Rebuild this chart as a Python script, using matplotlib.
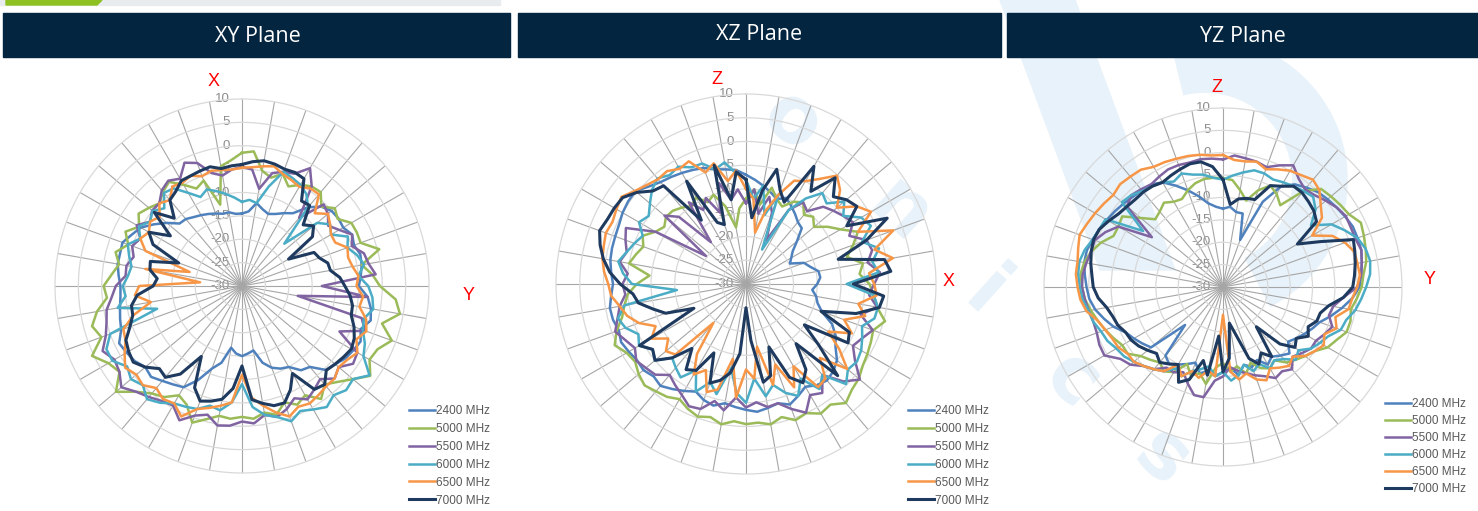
import numpy as np
import matplotlib
matplotlib.use('Agg')
import matplotlib.pyplot as plt
from matplotlib.patches import Rectangle, Polygon, Arc

# angle categories (deg, clockwise from top)
angles = np.arange(0, 360, 5)
freqs = ['2400 MHz', '5000 MHz', '5500 MHz', '6000 MHz', '6500 MHz', '7000 MHz']
colors = ['#4F81BD', '#9BBB59', '#8064A2', '#4BACC6', '#F79646', '#1F3A5F']
widths = [1.8, 1.8, 1.8, 1.8, 1.8, 2.2]

# ---- XY plane (dB) ----
xy_2400 = [-14.5, -14, -12, -13, -13.6, -13, -12, -11, -8, -6, -5, -4.8,
           -5, -4, -4.5, -3.8, -4, -4.5, -5, -3, -2, -1.5, -3, -2,
           -2.5, -3, -4, -4.6, -7.4, -8, -10, -10.5, -11.4, -13, -16, -15.5,
           -15, -15.5, -16.6, -13, -11.2, -7.8, -5, -4.3, -3.5, -2.5, -3, -2,
           -1.5, -1, -2.5, -3, -3.5, -3.9, -4, -3.5, -3, -3, -2.8, -4,
           -5, -7, -9, -11.1, -11.3, -12, -12.5, -13, -13.5, -14, -14, -14.5]
xy_5000 = [-1.5, -1.1, -5, -6, -4.5, -6.5, -5, -4, -3.8, -6, -4.1, -5,
           -3, -2.9, -3, 0.4, -4, -2, -0.5, 3, 4.3, 1, 4.1, 2,
           1.5, 3.5, 1, -1, -2.5, -0.5, -3, -2, -3.5, -1.5, -2.5, -1.5,
           -2, -1.5, -1.8, -0.5, 1.1, -2, -3, -1, 0, 2, 5.2, 2,
           3, 5.4, 2, 3.2, 1.5, -1, -0.4, -2, -3.3, -2, -4.1, -2.5,
           -4.6, -3, -4, -5, -3.7, -2.8, -5, -7, -6, -12, -4, -3]
xy_5500 = [-4.5, -5, -8.9, -5, -4, -3.5, -0.9, -4, -11, -5.3, -6, -7.5,
           -6, -4, -5, -3, -2.5, -1.3, -12.9, -3, -17.9, -3.5, -2, -7,
           -1.5, -1, -3, -2, -4, -3, -2, -3.5, -2, -1, -2, -0.5,
           -1, 0, 0.3, -1.5, -0.5, 1.7, -0.5, 0, 1, 2, 3.7, 2,
           1.5, 2.9, 1, 0, -0.6, -2, -3, -5, -4.9, -6, -5, -6,
           -4, -6, -4.9, -5, -3.3, -2.5, -3.5, -0.9, -2, -5, -6, -5]
xy_6000 = [-12, -11.5, -12, -8, -4, -4.5, -5, -6, -8, -17.2, -9, -7,
           -8, -5, -6, -4.5, -3.5, -5, -3, -2, -1.5, -3, -2.5, -1,
           0, 3.3, 1, 1.5, 0.5, 1.6, 0.5, -0.5, 0.8, -1, -2, -4,
           -9, -5, -3, -3.5, -2, -1.5, -1, 0.5, 1.6, 0, 1, 0,
           2, 2, 0, -11.2, -3, -5, -4.5, -5.5, -6, -5, -4, -6,
           -4.5, -6, -5, -6.5, -4, -4.5, -7, -9, -8, -9, -10, -11]
xy_6500 = [-4.7, -4.5, -4, -3.5, -4.5, -5, -5.5, -4.5, -4.4, -8, -6, -7,
           -8, -8, -6, -6.5, -6, -5, -5.5, -4, -4.5, -2.5, -1.7, -3,
           -1.5, -2.5, -3, -2, -2, -1.5, -1, -1.5, -0.3, -2, -4, -6,
           -11, -5, -4, -3, -2, 0.8, -1, -0.5, -1.5, 0, -0.5, 0.5,
           -1, -2.5, -3, -6, -10.2, -7, -8, -21, -9, -18.4, -8, -6,
           -7, -6, -7, -5, -6, -4, -4.5, -4, -5, -4.5, -4.8, -5]
xy_7000 = [-4, -3.3, -2.8, -3, -3.4, -3.2, -3.5, -7.8, -7.5, -11.5, -10, -11.6,
           -18.5, -13, -12.4, -11, -10.8, -9, -8, -6.8, -6, -5.8, -4.5, -3.5,
           -3, -3.5, -4, -4.5, -2.5, -3, -8.4, -5.5, -3.4, -3.5, -4.5, -5.6,
           -12.9, -8, -5.4, -4.5, -3.8, -6, -12.6, -7, -4.5, -5, -3, -1.6,
           -2, -2.6, -4.5, -5.8, -6, -7.5, -11, -11.8, -10, -9.7, -15.6, -9,
           -7, -11.3, -5.5, -9.5, -6, -5.3, -4, -4, -3.8, -3.6, -4.5, -4.2]

# ---- XZ plane (dB) ----
xz_2400 = [-7, -8, -9, -10, -11, -10, -11, -12, -13, -13.4, -16, -18,
           -19, -19.8, -17, -16, -14.5, -14.3, -15, -16, -15, -14.4, -13, -10,
           -8.2, -7, -5, -4, -3.5, -4, -5, -4, -3, -4, -3.5, -3,
           -3.5, -4, -4.5, -3.5, -4, -5, -4, -3, -2, -2.5, -1.8, -2,
           -1.5, -1, -1.5, -1, -0.9, -1.5, -2, -1.5, -1, -0.8, -0.7, -0.5,
           0, 0.3, 0.4, -1, -2, -2.5, -3, -3.5, -4, -5, -5.5, -5.9]
xz_5000 = [-12, -10, -13, -9, -11, -12, -10, -9, -11, -10, -11.3, -9,
           -7, -4, -6, -8, -5, -6, -4, -3, -2, 0.3, -1.5, -1,
           -0.5, 0, 1, 1.5, 2.7, 1, 1.5, 0, 0.5, -1, 0, -0.7,
           -0.5, -1, 0, -1, -0.3, -1, -2, -1, -0.5, 0.2, -0.5, -1.5,
           -1, 0.5, -1, -3, -4, -5, -7, -9.6, -5, -6, -7, -6,
           -8, -9, -8, -8.2, -9, -10, -9, -11, -10, -13, -17.9, -14]
xz_5500 = [-13, -10, -15, -11, -14, -19.8, -12, -9, -10, -7, -6, -5,
           -4, -6, -3, -2.5, -4, -1.7, -3, -4, -2, -5, -1.6, -3,
           -4, -2, 1.3, -1, -5, -2, -3, -0.1, -2, -4, -3.7, -5,
           -4, -6, -3, -4.5, -2, -1.6, -3, -4, -5, -3, -2.5, -1.8,
           -3, -2, -0.7, -2, -3, -4.5, -4, -5, -3, -4, -3, -2.1,
           -8, -19.7, -7.6, -10, -18.5, -9, -12, -10, -14, -8, -12, -10]
xz_6000 = [-8, -12, -9, -15, -10, -22, -12, -8, -5, -6, -3, -5,
           -2, -1, -4, -1, -3, -2, -8.8, -3, -1.8, -2, -4, -3,
           -2, -1.5, -2, -0.2, -5, -3, -7, -4, -5.6, -8, -6, -10,
           -5, -7, -12, -6, -8, -5, -9, -6, -7, -8, -5, -6,
           -4, -5, -3, -2.1, -4, -15.4, -6, -4, -2.7, -4, -5, -6,
           -4, -5, -3.6, -2, -1, -2, -1.5, -2.9, -3, -5, -4, -6.7]
xz_6500 = [-10, -12, -19, -14, -10, -6, -5, -3, -0.2, -2, -5, -1.5,
           0.4, -4, 3, -2, 1.4, -4, -3, -2.4, -6, -4, -8, -5.4,
           -10, -6, -2.2, -8, -4, -3.5, -10, -6, -12, -8, -16.6, -10,
           -12, -6, -14, -7, -5.8, -10, -8, -12, -19.3, -9, -8, -10,
           -7, -9, -6, -4.1, -3, -1.5, -1, 0, 0.7, 1, 1.4, 1,
           1.5, 2, 0.5, -0.5, -1.2, -1, -2, -1.5, -5, -3.7, -8, -6]
xz_7000 = [-8, -16, -10, -5, -9, -11, -1.4, -6.2, -0.8, -4, -2.4, -1.5,
           -5.5, 2.8, -3, -9.9, -0.4, 0.6, -7.4, -0.9, -1.5, -6, -13.2, -6,
           -5.2, -15, -10, -2.7, -13.6, -8, -6, -8.3, -15.9, -10, -9, -18,
           -25, -15.3, -11, -9, -7.8, -14, -9, -8, -12.3, -8, -5, -6,
           -4.1, -17.9, -12, -9.7, -7, -6.1, -3.5, -1.2, 0.5, 1.8, 2.8, 2.2,
           2, 1.7, 0, -2.3, -3, -13.6, -5, -15.7, -16.7, -4.1, -12, -6.3]

# ---- YZ plane (dB) ----
yz_2400 = [-12.5, -12, -13, -13, -18.8, -9, -4, -2, -1, 0, 0.5, 1,
           1.5, 2, 2, 2, 1.5, 1, 0.5, -1, -3, -5, -7, -8,
           -9, -10, -11, -9, -10, -11, -10, -12, -11, -12, -10, -12,
           -11, -10, -11, -10, -12, -11, -10, -9, -10, -18, -9, -8,
           -7, -6, -4, -2.5, -1, 0, 0.5, 1, 1.5, 1.5, 1, 0.5,
           0, -0.5, -1, -1.5, -1.8, -2, -3, -5, -7, -9, -11, -12]
yz_5000 = [-5.7, -6, -8, -10, -7, -5, -6, -7.7, -2, 1, 1.5, 2,
           2.5, 4, 3.5, 3, 2.5, 1.5, 1, 0, -1, -0.5, -0.6, -2,
           -3, -5, -6, -7, -8, -10, -9, -10, -12, -10, -12, -11,
           -13, -12, -8, -10, -9, -11, -8, -7, -8, -7, -6, -4,
           -4, -3, -2, -1, 0, 1, 1.5, 2, 1.5, 0.5, -1, -3,
           -3, -2.5, -6, -8.6, -8, -7, -8, -8.3, -7, -6, -5.5, -5.5]
yz_5500 = [-1.5, -0.5, -0.8, -1, -1.5, 0, 1.4, -0.5, -1.5, -1, 0, 1,
           1.7, 1.5, 1.5, 2, 1.5, 1, 0, -3, -5, -5.5, -4, -5,
           -6, -6, -7, -8, -6, -7, -6.5, -8, -9, -10, -11, -12,
           -10, -9, -5, -5, -7, -9, -8, -8, -6, -5, -3, -2,
           0.6, 0.5, 0, 0, 0.5, 1, 1.5, 1.5, 1, 0.5, 0.5, -1,
           -3, -10.6, -2, -1, -1.5, -2, -1.5, -1, -1, -1.2, -1, -1.2]
yz_6000 = [-6, -5, -4, -3, -3, -3.5, -3, -2.5, -2, -1.5, -3, -6,
           -2, 0, 2, 3, 3.4, 3, 2, 1, 0, -1.5, -2, -4,
           -5, -6, -8, -7, -9, -10, -9, -11, -10, -12, -10, -9,
           -11, -10, -12, -11, -10, -8, -9, -7, -6, -5, -4, -3,
           -2.5, -1.5, -1, 0, 0.5, 1.5, 2, 2.5, 2.6, 2, 1, 0.5,
           0.3, -8.2, -0.5, -1, -2, -2.5, -3, -4, -3, -4, -4.5, -5.5]
yz_6500 = [-0.5, -1.5, -1.5, -1, -2, -1, 0, 0.5, 1.3, 0.5, -1.5, -3,
           -7, -3, -1, 0.4, 0.5, 0.7, 0, -1, -1.5, -4, -3, -5,
           -4, -5, -6, -8, -7, -8, -9, -7, -8, -10, -9, -11,
           -23.8, -10, -11, -9, -10, -8, -10, -7, -6, -5, -4, -4,
           -3, -2.7, -2, -1, 1, 2, 2.5, 3, 3, 3.5, 4.1, 3.5,
           3, 2.5, 2, 2.5, 2.2, 2, 1, 0.8, 0.5, 0.3, 0, -0.5]
yz_7000 = [-6, -11.5, -10, -9.5, -9.2, -5, -4, -2.5, -2.5, -3, -3.5, -4.5,
           -10.8, -6, 1, 0.5, 0, -0.5, -1, -3, -6, -7.5, -7.7, -9,
           -8, -10, -9, -12, -18.4, -11, -13, -11, -13, -19, -21.8, -14,
           -11, -19, -10, -13, -8, -6.5, -10, -9, -8, -9, -8, -7,
           -6.3, -6, -5, -4.5, -3.6, -2, -1, -0.6, 0, 0.5, 0.8, 0.5,
           -0.5, -1.5, -2, -2.3, -2.3, -2.5, -3, -2.5, -2, -1.5, -1.6, -3]

planes = [
    ('XY Plane', [xy_2400, xy_5000, xy_5500, xy_6000, xy_6500, xy_7000], 'X', 'Y'),
    ('XZ Plane', [xz_2400, xz_5000, xz_5500, xz_6000, xz_6500, xz_7000], 'Z', 'X'),
    ('YZ Plane', [yz_2400, yz_5000, yz_5500, yz_6000, yz_6500, yz_7000], 'Z', 'Y'),
]
ring_ticks = [10, 5, 0, -5, -10, -15, -20, -25, -30]

W, H = 1478, 511
fig = plt.figure(figsize=(W / 100, H / 100), dpi=100)
fig.patch.set_facecolor('white')

def fx(px):
    return px / W

def fy(py):
    return 1 - py / H

# faint background watermark (behind the charts)
wm = '#E8F2FA'
for ch, px, py in [('o', 792, 122), ('n', 900, 212), ('i', 985, 295), ('c', 1072, 380), ('s', 1163, 458)]:
    fig.text(fx(px), fy(py), ch, color=wm, fontsize=56, fontweight='bold', family='DejaVu Sans',
             rotation=-42, ha='center', va='center', zorder=-2)
fig.patches.append(Arc((fx(1205), fy(180)), fx(230), 230 / H, theta1=-80, theta2=95,
                       transform=fig.transFigure, color=wm, lw=40, zorder=-2))
fig.patches.append(Polygon([(fx(1000), fy(0)), (fx(1075), fy(0)), (fx(1175), fy(270)),
                            (fx(1100), fy(270))], closed=True, transform=fig.transFigure,
                           color=wm, zorder=-2))

# top strip + header bars
fig.patches.append(Rectangle((0, fy(5)), fx(500), 5 / H, transform=fig.transFigure,
                             color='#E9ECEF', zorder=0))
fig.patches.append(Polygon([(fx(6), fy(0)), (fx(102), fy(0)), (fx(97), fy(5)), (fx(6), fy(5))],
                           closed=True, transform=fig.transFigure, color='#8DC021', zorder=0))
bars = [(3, 510), (518, 1001), (1007, 1478)]
title_x = [258, 759, 1243]
title_y = [37, 34, 37]
for (x0, x1), tx, ty, (name, _, _, _) in zip(bars, title_x, title_y, planes):
    fig.patches.append(Rectangle((fx(x0), fy(57)), fx(x1 - x0), 44 / H,
                                 transform=fig.transFigure, color='#03253F', zorder=1))
    fig.text(fx(tx), fy(ty), name, color='white', fontsize=15.5, family='Open Sans',
             ha='center', va='center', zorder=2)

# polar axes: (center x, center y, radius) in px
geoms = [(242, 286, 187), (746, 284, 190), (1223, 287, 179)]
top_lbl = [(214, 82), (717, 80), (1217, 88)]
side_lbl = [(469, 295), (949, 281), (1430, 279)]
legend_pos = [(409, 405, 0.5), (908, 405, 0.5), (1385, 398, 0.42)]

for i, (name, series, top_ax, side_ax) in enumerate(planes):
    cx, cy, R = geoms[i]
    ax = fig.add_axes([fx(cx - R), fy(cy + R), fx(2 * R), 2 * R / H], projection='polar')
    ax.set_facecolor('none')
    ax.set_theta_zero_location('N')
    ax.set_theta_direction(-1)
    ax.set_ylim(-30, 10)
    ax.set_yticks(ring_ticks[1:-1])
    ax.set_yticklabels([])
    ax.set_xticks(np.deg2rad(np.arange(0, 360, 10)))
    ax.set_xticklabels([])
    ax.xaxis.grid(True, color='#A6A6A6', lw=0.8)
    ax.yaxis.grid(True, color='#D9D9D9', lw=0.9)
    ax.spines['polar'].set_color('#D9D9D9')
    ax.spines['polar'].set_linewidth(0.9)
    ax.tick_params(length=0)

    for v in ring_ticks:
        ax.annotate(str(v), xy=(0, v), xytext=(-12, 0), textcoords='offset pixels',
                    ha='right', va='center', fontsize=9.5, color='#8C8C8C',
                    family='Liberation Sans', zorder=1, annotation_clip=False)

    th = np.deg2rad(np.append(angles, angles[0]))
    handles = []
    for vals, col, lw, lab in zip(series, colors, widths, freqs):
        r = np.append(vals, vals[0])
        h, = ax.plot(th, r, color=col, lw=lw, label=lab, zorder=3)
        handles.append(h)

    lx, ly, sp = legend_pos[i]
    leg = ax.legend(handles=handles, loc='upper left', bbox_to_anchor=(fx(lx), fy(ly)),
                    bbox_transform=fig.transFigure, frameon=False, fontsize=8.5,
                    handlelength=2.2, handletextpad=0.05, labelspacing=sp,
                    borderpad=0, borderaxespad=0)
    for t in leg.get_texts():
        t.set_color('#595959')
        t.set_family('Liberation Sans')

    fig.text(fx(top_lbl[i][0]), fy(top_lbl[i][1]), top_ax, color='red', fontsize=13,
             ha='center', va='center', family='Liberation Sans')
    fig.text(fx(side_lbl[i][0]), fy(side_lbl[i][1]), side_ax, color='red', fontsize=13,
             ha='center', va='center', family='Liberation Sans')

fig.savefig('out.png', dpi=100)
